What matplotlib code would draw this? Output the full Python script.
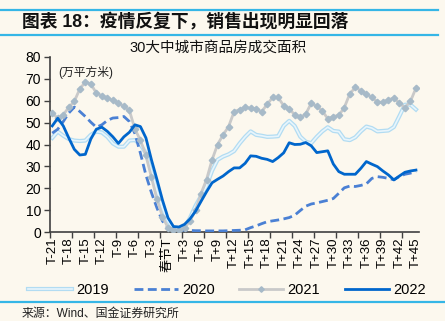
import matplotlib
matplotlib.use("Agg")
import matplotlib.pyplot as plt
from matplotlib.lines import Line2D
from matplotlib.legend_handler import HandlerTuple

plt.rcParams['font.family'] = ['Liberation Sans', 'Noto Sans CJK SC']

# ---------------- data ----------------
x_labels = ['T-21', 'T-18', 'T-15', 'T-12', 'T-9', 'T-6', 'T-3', '春节T',
            'T+3', 'T+6', 'T+9', 'T+12', 'T+15', 'T+18', 'T+21', 'T+24',
            'T+27', 'T+30', 'T+33', 'T+36', 'T+39', 'T+42', 'T+45']
series_names = ['2019', '2020', '2021', '2022']

y2019 = [43, 45.9, 44, 42.5, 41.8, 41.6, 41.8, 44.4, 45.9, 45.5,
         43.5, 40.5, 39, 39, 41.8, 42, 40, 36, 28, 19,
         11, 5, 1.5, 1, 2, 6.5, 12, 16.5, 21, 28,
         33, 34.5, 35.5, 37, 40.5, 43.5, 46, 44.4, 44, 43.5,
         43.6, 43.8, 48.5, 50.8, 48.5, 43.6, 41.3, 40.6, 43.5, 46,
         47.9, 46.2, 45.9, 42.4, 42, 43.3, 46, 48.2, 47.5, 46,
         46.2, 46.4, 48, 53, 58.2, 58.2, 56]
y2020 = [45.2, 47, 50.5, 54.4, 57.1, 55.1, 52.8, 50.2, 47.9, 49,
         51, 52.1, 52.3, 52.8, 50.5, 45, 36, 26, 18, 11,
         5, 2, 1, 0.8, 0.8, 0.7, 0.6, 0.6, 0.5, 0.5,
         0.5, 0.5, 0.6, 0.7, 0.8, 1.0, 2, 2.8, 3.8, 4.7,
         5.1, 5.5, 6, 6.6, 7.7, 9.8, 11.8, 12.8, 13.3, 13.9,
         14.5, 15.3, 17.7, 20.2, 21, 20.8, 21.3, 22, 24.5, 25.3,
         25, 24.5, 23.9, 25.4, 26.4, 26.9, 27.6]
y2021 = [54.4, 52, 53.6, 57, 59.7, 65.4, 68.6, 67.7, 63.5, 62.3,
         61.2, 60.2, 59, 57.4, 55.6, 47, 42, 35, 25, 15,
         7, 2, 1, 1, 2, 5, 10, 17.6, 24, 33,
         40, 44.4, 48.2, 55, 56, 57, 56.5, 56.3, 55, 58.4,
         61.5, 61.5, 57.7, 56.3, 53.6, 52.4, 53.9, 58.9, 57.4, 55.4,
         51.8, 52.8, 53.3, 56.9, 63.2, 66.1, 64.6, 63.1, 61.5, 59.4,
         59.3, 60.5, 61.2, 58.9, 56.9, 59.7, 65.8]
y2022 = [48.5, 52, 48.5, 43, 37.8, 35.2, 35.5, 42.5, 47, 47.9,
         46, 43.5, 40.5, 43.5, 45.6, 49, 48.2, 43, 33, 24,
         14.6, 6.5, 2.5, 2.3, 3.5, 6, 9.5, 14, 18.4, 22.5,
         24.1, 25.6, 27.6, 29.3, 29.3, 31.4, 34.8, 34.6, 33.7, 33.2,
         32.2, 34, 36.2, 40.8, 40, 40.1, 40.9, 39.4, 36.3, 36.7,
         37.1, 31.1, 27.6, 26.4, 26.4, 26.4, 29.1, 32.2, 31, 29.9,
         27.9, 26.1, 23.8, 25.6, 27.3, 27.9, 28.3]

# ---------------- figure ----------------
BG = '#FCF8EE'
fig = plt.figure(figsize=(4.45, 3.21), dpi=100, facecolor=BG)
ax = fig.add_axes([49.5 / 445, 1 - 232 / 321, (418.7 - 49.5) / 445, (232 - 57) / 321])
ax.set_facecolor(BG)

xs = list(range(len(y2019)))

# 2019: double light-blue line
ax.plot(xs, y2019, color='#B2DCF2', lw=3.0, solid_joinstyle='round', zorder=2)
ax.plot(xs, y2019, color='#E8F5FC', lw=1.2, solid_joinstyle='round', zorder=2.1)
# 2020 dashed
ax.plot(xs, y2020, color='#4A80D4', lw=2.0, ls=(0, (3.2, 1.6)), zorder=3)
# 2021 gray with diamond markers
ax.plot(xs, y2021, color='#C9C9C9', lw=2.0, marker='D', ms=3.3,
        mfc='#A7BAC8', mec='#A7BAC8', zorder=4)
# 2022 solid blue
ax.plot(xs, y2022, color='#0066CC', lw=2.0, zorder=5)

ax.set_xlim(-0.5, len(xs) - 0.5)
ax.set_ylim(0, 80)
ax.set_yticks(range(0, 81, 10))
ax.tick_params(axis='y', length=4, width=1, color='#404040', labelsize=10, pad=2)

# major ticks every 4 categories (no labels), minor positions carry labels
ax.set_xticks([v - 0.5 for v in range(0, len(xs) + 1, 4)])
ax.set_xticklabels([])
ax.set_xticks(list(range(0, len(xs), 3)), x_labels, minor=True, rotation=90)
ax.tick_params(axis='x', which='major', length=4, width=1, color='#404040')
ax.tick_params(axis='x', which='minor', length=0, labelsize=9.5, pad=4)

for s in ['top', 'right']:
    ax.spines[s].set_visible(False)
for s in ['left', 'bottom']:
    ax.spines[s].set_color('#404040')
    ax.spines[s].set_linewidth(1.2)

ax.text(0.025, 0.95, '(万平方米)', transform=ax.transAxes, fontsize=8.5,
        va='top', ha='left', color='#222222')

# chart title
fig.text(218 / 445, 1 - 48 / 321, '30大中城市商品房成交面积', ha='center', va='center',
         fontsize=10.5, color='#111111')

# header
fig.text(22 / 445, 1 - 22 / 321, '图表 18：疫情反复下，销售出现明显回落', ha='left',
         va='center', fontsize=12.8, fontweight='bold', color='#111111')
cyan = '#35B6E6'
fig.add_artist(Line2D([0, 438 / 445], [1 - 10 / 321, 1 - 10 / 321], color=cyan, lw=1.6,
                      transform=fig.transFigure))
fig.add_artist(Line2D([0, 438 / 445], [1 - 35 / 321, 1 - 35 / 321], color=cyan, lw=1.6,
                      transform=fig.transFigure))
fig.add_artist(Line2D([0, 1], [1 - 302 / 321, 1 - 302 / 321], color=cyan, lw=1.6,
                      transform=fig.transFigure))

# source
fig.text(22 / 445, 1 - 314 / 321, '来源：Wind、国金证券研究所', ha='left', va='center',
         fontsize=8.6, color='#222222')

# legend
h2019 = (Line2D([], [], color='#B2DCF2', lw=3.0), Line2D([], [], color='#E8F5FC', lw=1.2))
h2020 = Line2D([], [], color='#4A80D4', lw=2.0, ls=(0, (3.2, 1.6)))
h2021 = Line2D([], [], color='#C9C9C9', lw=2.0, marker='D', ms=2.8,
               mfc='#A7BAC8', mec='#A7BAC8')
h2022 = Line2D([], [], color='#0066CC', lw=2.0)
leg = fig.legend([h2019, h2020, h2021, h2022], series_names, ncol=4,
                 loc='center', bbox_to_anchor=(227 / 445, 1 - 290 / 321),
                 frameon=False, fontsize=10.5, handlelength=3.0, handletextpad=0.3,
                 columnspacing=1.7, numpoints=1,
                 handler_map={tuple: HandlerTuple(ndivide=1)})

fig.savefig('out.png', dpi=100, facecolor=BG)
